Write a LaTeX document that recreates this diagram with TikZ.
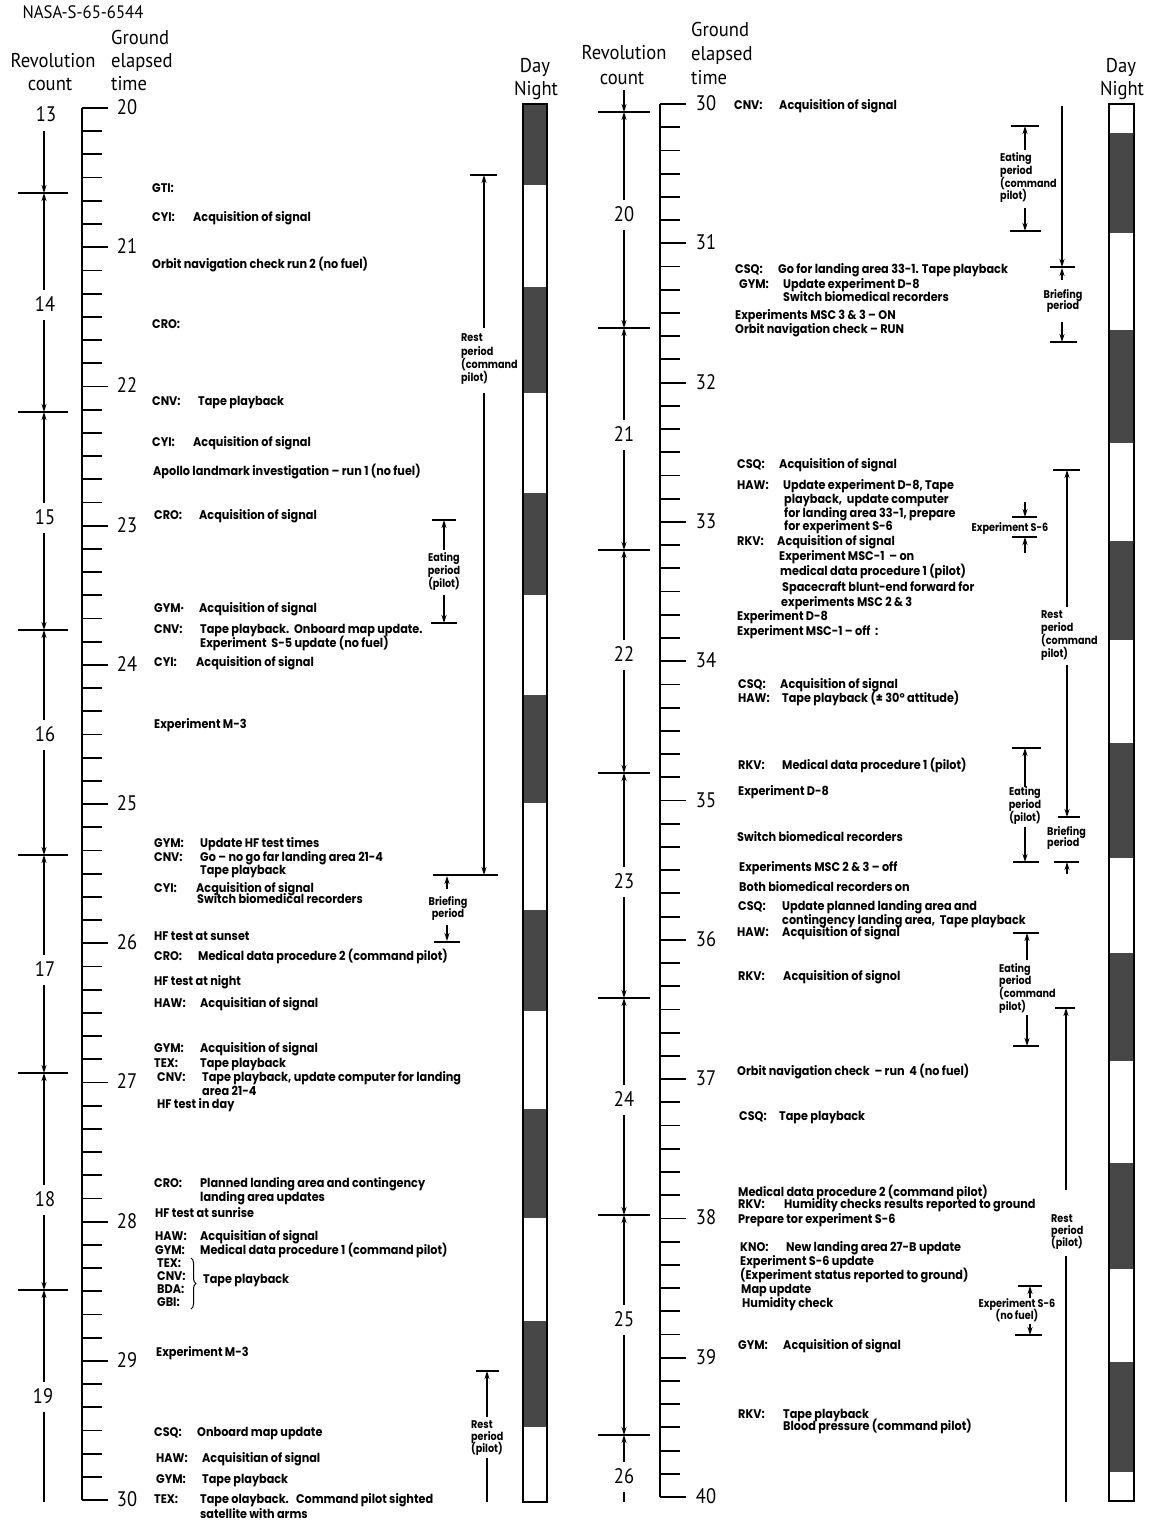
\documentclass[tikz,border=0pt]{standalone}
\usepackage{fontspec}
\usetikzlibrary{arrows.meta,decorations.pathreplacing}
\newfontfamily\evf{Poppins}[FakeStretch=0.9]
\newfontfamily\lbf{Poppins}[FakeStretch=0.86]
\newfontfamily\hdf{PT Sans}[FakeStretch=0.93]
\newfontfamily\nmf{PT Sans}[FakeStretch=0.88]
\newcounter{evc}
\newcounter{lbc}
\newcommand\ev[3]{\stepcounter{evc}\node[ev] (ev\arabic{evc}) at (#1,#2) {#3};}
\newcommand\lbc[3]{\stepcounter{lbc}\node[lb] (lb\arabic{lbc}) at (#1,#2) {#3};}
\newcommand\lbw[3]{\stepcounter{lbc}\node[lb,anchor=west] (lb\arabic{lbc}) at (#1,#2) {#3};}
\newcommand\pbar[3]{\draw[barl] (#1,#3) -- (#2,#3);}
\tikzset{
 ev/.style={anchor=west,inner sep=0pt,text height=9pt,text depth=3pt,font=\evf\bfseries\fontsize{12.5}{14}\selectfont},
 lb/.style={anchor=center,inner sep=0pt,text height=9pt,text depth=3pt,font=\lbf\bfseries\fontsize{11.2}{13}\selectfont},
 hd/.style={inner sep=0pt,text height=14pt,text depth=4pt,font=\hdf\fontsize{20}{22}\selectfont},
 num/.style={inner sep=0pt,text height=14pt,text depth=1pt,font=\nmf\fontsize{21}{22}\selectfont},
 arr/.style={line width=1.3pt,-{Stealth[length=8pt,width=5pt]}},
 ln/.style={line width=1.3pt},
 barl/.style={line width=1.4pt},
 axisl/.style={line width=2.6pt},
 tickl/.style={line width=1.8pt},
 revb/.style={line width=1.2pt},
}
\begin{document}
\begin{tikzpicture}[x=1pt,y=-1pt]
\useasboundingbox (0,0) rectangle (1160,1525);
\fill[white] (0,0) rectangle (1160,1525);

% ---------------- headers
\node[hd,font=\hdf\fontsize{18}{20}\selectfont] (nasa) at (83,14) {NASA-S-65-6544};
\node[hd] (rcA) at (53,63) {Revolution};
\node[hd] (rcB) at (50,86) {count};
\node[hd,anchor=west] (geA) at (111,40) {Ground};
\node[hd,anchor=west] (geB) at (111,63) {elapsed};
\node[hd,anchor=west] (geC) at (111,86) {time};
\node[hd] (dnA) at (535,68) {Day};
\node[hd] (dnB) at (536,91) {Night};
\node[hd] (rcC) at (624,55) {Revolution};
\node[hd] (rcD) at (622,80) {count};
\node[hd,anchor=west] (geD) at (691,32) {Ground};
\node[hd,anchor=west] (geE) at (691,56) {elapsed};
\node[hd,anchor=west] (geF) at (691,80) {time};
\node[hd] (dnC) at (1121,68) {Day};
\node[hd] (dnD) at (1122,91) {Night};

% ---------------- time axes
\draw[axisl] (82,108) -- (82,1500);
\foreach \i in {0,...,60}{
  \pgfmathsetmacro\yy{108+\i*23.2}
  \pgfmathtruncatemacro\m{mod(\i,6)}
  \ifnum\m=0 \draw[tickl] (82,\yy) -- (108,\yy); \else \draw[tickl] (82,\yy) -- (102,\yy); \fi
}
\foreach \h in {0,...,10}{
  \pgfmathtruncatemacro\lab{20+\h}
  \node[num] (lh\h) at (127,108+\h*139.2) {\lab};
}
\draw[axisl] (660,104) -- (660,1497);
\foreach \i in {0,...,60}{
  \pgfmathsetmacro\yy{104+\i*23.217}
  \pgfmathtruncatemacro\m{mod(\i,6)}
  \ifnum\m=0 \draw[tickl] (660,\yy) -- (686,\yy); \else \draw[tickl] (660,\yy) -- (680,\yy); \fi
}
\foreach \h in {0,...,10}{
  \pgfmathtruncatemacro\lab{30+\h}
  \node[num] (rh\h) at (706,104+\h*139.3) {\lab};
}

% ---------------- revolution counts, left
\foreach \y in {193,412,630,855,1073,1290} \draw[revb] (18,\y) -- (68,\y);
\node[num] (r13) at (46,115) {13};
\draw[arr] (44,131) -- (44,193);
\foreach \n/\m/\a/\b in {14/305/193/412,15/518/412/630,16/735/630/855,17/970/855/1073,18/1200/1073/1290}{
  \node[num] (r\n) at (45,\m) {\n};
  \draw[arr] (44,\m-15) -- (44,\a);
  \draw[arr] (44,\m+15) -- (44,\b);
}
\node[num] (r19) at (43,1397) {19};
\draw[arr] (44,1382) -- (44,1290);
\draw[ln] (44,1412) -- (44,1502);

% ---------------- revolution counts, right
\foreach \y in {112,328,550,773,998,1215,1435} \draw[revb] (598,\y) -- (650,\y);
\draw[arr] (624,90) -- (624,112);
\foreach \n/\m/\a/\b in {20/215/112/328,21/435/328/550,22/655/550/773,23/882/773/998,24/1100/998/1215,25/1320/1215/1435}{
  \node[num] (r\n) at (624,\m) {\n};
  \draw[arr] (624,\m-15) -- (624,\a);
  \draw[arr] (624,\m+15) -- (624,\b);
}
\node[num] (r26) at (624,1477) {26};
\draw[arr] (624,1462) -- (624,1435);
\draw[ln] (624,1492) -- (624,1502);

% ---------------- day / night bars
\foreach \a/\b in {104/185,287/393,493/595,695/803,910/1011,1109/1218,1321/1427}
  \fill[black!72] (523,\a) rectangle (547,\b);
\draw[line width=1.3pt] (523,104) rectangle (547,1502);
\foreach \a/\b in {133/233,330/443,541/640,743/858,953/1061,1163/1269,1362/1472}
  \fill[black!72] (1109,\a) rectangle (1134,\b);
\draw[line width=1.3pt] (1109,104) rectangle (1134,1501);

% ---------------- period brackets, left
\pbar{470}{497}{175}
\draw[arr] (484,328) -- (484,175);
\lbw{461}{338}{Rest}\lbw{461}{352}{period}\lbw{461}{365}{(command}\lbw{461}{378}{pilot)}
\draw[arr] (484,393) -- (484,875);
\pbar{433}{498}{875}
\draw[arr] (447,889) -- (447,876);
\lbc{448}{902}{Briefing}\lbc{448}{914}{period}
\draw[arr] (447,925) -- (447,941);
\pbar{434}{460}{942}
\pbar{432}{456}{520}
\draw[arr] (444,550) -- (444,520);
\lbc{444}{558}{Eating}\lbc{444}{571}{period}\lbc{444}{584}{(pilot)}
\draw[arr] (444,595) -- (444,623);
\pbar{431}{457}{623}
\pbar{476}{499}{1371}
\draw[arr] (487,1417) -- (487,1371);
\lbw{471}{1425}{Rest}\lbw{471}{1437}{period}\lbw{471}{1449}{(pilot)}
\draw[ln] (487,1458) -- (487,1502);

% ---------------- period brackets, right
\draw[arr] (1062,106) -- (1062,267);
\pbar{1050}{1075}{267}
\draw[arr] (1062,280) -- (1062,268);
\lbc{1063}{295}{Briefing}\lbc{1063}{306}{period}
\draw[arr] (1062,322) -- (1062,342);
\pbar{1050}{1077}{342}
\pbar{1011}{1039}{126}
\draw[arr] (1025,150) -- (1025,126);
\lbw{1000}{159}{Eating}\lbw{1000}{172}{period}\lbw{1000}{185}{(command}\lbw{1000}{197}{pilot)}
\draw[arr] (1025,208) -- (1025,231);
\pbar{1010}{1041}{231}
\draw[arr] (1025,502) -- (1025,517);
\pbar{1012}{1037}{517}
\lbc{1010}{528}{Experiment S-6}
\pbar{1012}{1037}{537}
\draw[arr] (1025,553) -- (1025,537);
\pbar{1053}{1080}{470}
\draw[arr] (1067,607) -- (1067,470);
\lbw{1041}{615}{Rest}\lbw{1041}{628}{period}\lbw{1041}{641}{(command}\lbw{1041}{654}{pilot)}
\draw[arr] (1067,665) -- (1067,817);
\pbar{1058}{1080}{817}
\lbw{1047}{832}{Briefing}\lbw{1047}{843}{period}
\pbar{1054}{1079}{862}
\draw[arr] (1067,874) -- (1067,862);
\pbar{1012}{1041}{748}
\draw[arr] (1025,787) -- (1025,748);
\lbc{1025}{792}{Eating}\lbc{1025}{805}{period}\lbc{1025}{818}{(pilot)}
\draw[arr] (1025,827) -- (1025,862);
\pbar{1013}{1039}{862}
\pbar{1013}{1039}{933}
\draw[arr] (1027,960) -- (1027,933);
\lbw{999}{969}{Eating}\lbw{999}{981}{period}\lbw{999}{994}{(command}\lbw{999}{1007}{pilot)}
\draw[arr] (1027,1015) -- (1027,1046);
\pbar{1013}{1039}{1046}
\pbar{1055}{1075}{1008}
\draw[arr] (1066,1190) -- (1066,1008);
\lbw{1051}{1219}{Rest}\lbw{1051}{1231}{period}\lbw{1051}{1243}{(pilot)}
\draw[ln] (1066,1256) -- (1066,1502);
\pbar{1018}{1042}{1286}
\draw[arr] (1030,1298) -- (1030,1286);
\lbc{1017}{1304}{Experiment S-6}\lbc{1017}{1316}{(no fuel)}
\draw[arr] (1030,1324) -- (1030,1335);
\pbar{1015}{1042}{1335}

% ---------------- events, left
\ev{152}{190}{GTI:}
\ev{152}{219}{CYI:}\ev{193}{219}{Acquisition of signal}
\ev{152}{265}{Orbit navigation check run 2 (no fuel)}
\ev{152}{325}{CRO:}
\ev{152}{402}{CNV:}\ev{198}{402}{Tape playback}
\ev{152}{443}{CYI:}\ev{193}{443}{Acquisition of signal}
\ev{153}{472}{Apollo landmark investigation – run 1 (no fuel)}
\ev{154}{516}{CRO:}\ev{199}{516}{Acquisition of signal}
\ev{154}{609}{GYM·}\ev{199}{609}{Acquisition of signal}
\ev{154}{630}{CNV:}\ev{200}{630}{Tape playback.\ \ Onboard map update.}
\ev{200}{644}{Experiment\ \ S-5 update (no fuel)}
\ev{154}{663}{CYI:}\ev{196}{663}{Acquisition of signal}
\ev{154}{725}{Experiment M-3}
\ev{154}{844}{GYM:}\ev{200}{844}{Update HF test times}
\ev{154}{858}{CNV:}\ev{200}{858}{Go – no go far landing area 21-4}
\ev{200}{871}{Tape playback}
\ev{154}{889}{CYI:}\ev{196}{889}{Acquisition of signal}
\ev{197}{900}{Switch biomedical recorders}
\ev{154}{937}{HF test at sunset}
\ev{154}{957}{CRO:}\ev{198}{957}{Medical data procedure 2 (command pilot)}
\ev{154}{982}{HF test at night}
\ev{154}{1004}{HAW:}\ev{200}{1004}{Acquisitian of signal}
\ev{154}{1049}{GYM:}\ev{200}{1049}{Acquisition of signal}
\ev{154}{1064}{TEX:}\ev{200}{1064}{Tape playback}
\ev{157}{1078}{CNV:}\ev{202}{1078}{Tape playback, update computer for landing}
\ev{202}{1092}{area 21-4}
\ev{157}{1105}{HF test in day}
\ev{154}{1184}{CRO:}\ev{200}{1184}{Planned landing area and contingency}
\ev{200}{1198}{landing area updates}
\ev{155}{1214}{HF test at sunrise}
\ev{155}{1237}{HAW:}\ev{200}{1237}{Acquisitian of signal}
\ev{155}{1251}{GYM:}\ev{200}{1251}{Medical data procedure 1 (command pilot)}
\ev{157}{1264}{TEX:}\ev{157}{1277}{CNV:}\ev{157}{1290}{BDA:}\ev{157}{1303}{GBI:}
\draw[line width=1pt,decorate,decoration={brace,amplitude=5pt}] (191,1258) -- (191,1309);
\ev{203}{1280}{Tape playback}
\ev{156}{1353}{Experiment M-3}
\ev{154}{1433}{CSQ:}\ev{197}{1433}{Onboard map update}
\ev{156}{1459}{HAW:}\ev{202}{1459}{Acquisitian of signal}
\ev{156}{1480}{GYM:}\ev{202}{1480}{Tape playback}
\ev{154}{1500}{TEX:}\ev{200}{1500}{Tape olayback.\ \ \ Command pilot sighted}
\ev{200}{1515}{satellite with arms}

% ---------------- events, right
\ev{734}{107}{CNV:}\ev{779}{107}{Acquisition of signal}
\ev{735}{270}{CSQ:}\ev{778}{270}{Go for landing area 33-1. Tape playback}
\ev{739}{285}{GYM:}\ev{783}{285}{Update experiment D-8}
\ev{783}{298}{Switch biomedical recorders}
\ev{735}{316}{Experiments MSC 3 \& 3 – ON}
\ev{735}{330}{Orbit navigation check – RUN}
\ev{737}{465}{CSQ:}\ev{779}{465}{Acquisition of signal}
\ev{737}{486}{HAW:}\ev{783}{486}{Update experiment D-8, Tape}
\ev{784}{500}{playback,\ \ update computer}
\ev{784}{514}{for landing area 33-1, prepare}
\ev{784}{527}{for experiment S-6}
\ev{737}{542}{RKV:}\ev{777}{542}{Acquisition of signal}
\ev{779}{557}{Experiment MSC-1\ \ – on}
\ev{780}{572}{medical data procedure 1 (pilot)}
\ev{782}{588}{Spacecraft blunt-end forward for}
\ev{781}{603}{experiments MSC 2 \& 3}
\ev{737}{617}{Experiment D-8}
\ev{737}{632}{Experiment MSC-1 – off\ \ :}
\ev{738}{685}{CSQ:}\ev{780}{685}{Acquisition of signal}
\ev{738}{699}{HAW:}\ev{782}{699}{Tape playback (± 30° attitude)}
\ev{738}{766}{RKV:}\ev{782}{766}{Medical data procedure 1 (pilot)}
\ev{738}{792}{Experiment D-8}
\ev{737}{838}{Switch biomedical recorders}
\ev{739}{868}{Experiments MSC 2 \& 3 – off}
\ev{739}{888}{Both biomedical recorders on}
\ev{738}{907}{CSQ:}\ev{782}{907}{Update planned landing area and}
\ev{782}{921}{contingency landing area,\ \ Tape playback}
\ev{737}{933}{HAW:}\ev{782}{933}{Acquisition of signal}
\ev{738}{977}{RKV:}\ev{783}{977}{Acquisition of signol}
\ev{737}{1072}{Orbit navigation check\ \ – run\ \ 4 (no fuel)}
\ev{739}{1117}{CSQ:}\ev{779}{1117}{Tape playback}
\ev{738}{1193}{Medical data procedure 2 (command pilot)}
\ev{738}{1205}{RKV:}\ev{784}{1205}{Humidity checks results reported to ground}
\ev{738}{1220}{Prepare tor experiment S-6}
\ev{740}{1248}{KNO:}\ev{786}{1248}{New landing area 27-B update}
\ev{740}{1262}{Experiment S-6 update}
\ev{740}{1276}{(Experiment status reported to ground)}
\ev{741}{1290}{Map update}
\ev{742}{1304}{Humidity check}
\ev{738}{1346}{GYM:}\ev{783}{1346}{Acquisition of signal}
\ev{738}{1415}{RKV:}\ev{783}{1415}{Tape playback}
\ev{783}{1427}{Blood pressure (command pilot)}
\end{tikzpicture}
\end{document}
